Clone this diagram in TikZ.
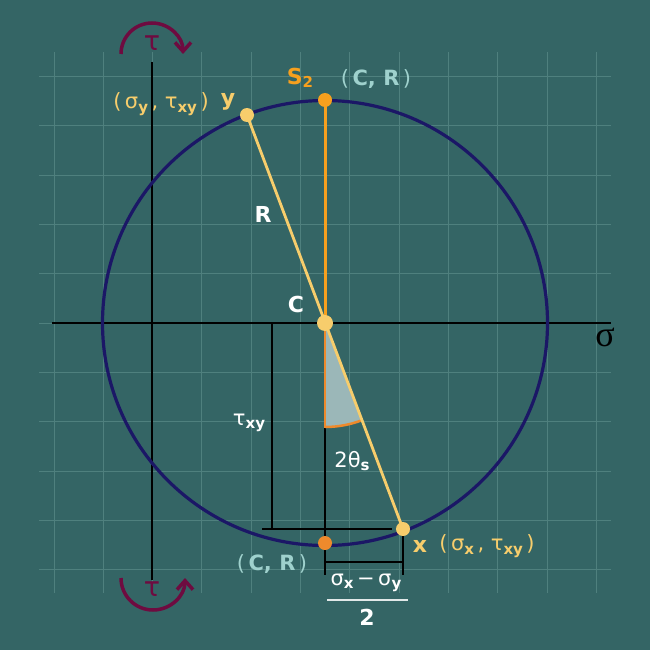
\documentclass[tikz,border=0pt]{standalone}
\usepackage{fontspec}
\setmainfont{DejaVu Sans}
\newfontfamily\serifg{Liberation Serif}
\usetikzlibrary{arrows.meta}
\definecolor{bg}{HTML}{346565}
\definecolor{gridc}{HTML}{4F807E}
\definecolor{circ}{HTML}{1B1766}
\definecolor{yel}{HTML}{F7CD6C}
\definecolor{orn}{HTML}{F7A01E}
\definecolor{orn2}{HTML}{EE8A2C}
\definecolor{tealt}{HTML}{9FD1CD}
\definecolor{maroonc}{HTML}{6E0B40}
\definecolor{shadec}{HTML}{9BB7B8}
\newcommand\sbs[1]{\raisebox{-0.3ex}{\fontsize{15}{15}\selectfont\bfseries #1}}
\tikzset{
  lbl/.style={inner sep=0pt, font=\fontsize{21}{24}\selectfont},
  blbl/.style={inner sep=0pt, font=\fontsize{22}{24}\selectfont\bfseries},
  dot/.style={circle, inner sep=0pt, minimum size=14pt},
  dimline/.style={black, line width=1.6pt},
  rot/.style={maroonc, line width=3.5pt, -{Straight Barb[length=9pt,width=16pt,line width=3.5pt]}},
}
\begin{document}
\begin{tikzpicture}[x=1pt,y=-1pt]
\fill[bg] (0,0) rectangle (650,650);
\useasboundingbox (0,0) rectangle (650,650);
% grid
\foreach \i in {0,...,11} \draw[gridc, line width=1pt] ({54+49.3*\i},52) -- ({54+49.3*\i},593);
\foreach \j in {0,...,10} \draw[gridc, line width=1pt] (39,{76.7+49.3*\j}) -- (611,{76.7+49.3*\j});
% coordinates
\coordinate (C) at (325,323);
\coordinate (S) at (325,100);
\coordinate (B) at (325,543);
\coordinate (Y) at (247,115);
\coordinate (X) at (403,529);
\coordinate (tT) at (152,62);
\coordinate (tB) at (152,580);
\coordinate (sL) at (52,323);
\coordinate (sR) at (611,323);
% axes
\draw[black, line width=1.8pt] (tT) -- (tB);
\draw[black, line width=1.8pt] (sL) -- (sR);
% circle
\draw[circ, line width=3.2pt] (C) circle (222.5);
% wedge
\fill[shadec] (C) -- +(90:104) arc[start angle=90, end angle=69.3, radius=104] -- cycle;
% dimension lines
\coordinate (d1) at (272,323);
\coordinate (d2) at (272,530);
\coordinate (h1) at (262,529);
\coordinate (h2) at (392,529);
\coordinate (f1) at (325,562);
\coordinate (f2) at (403,562);
\coordinate (t1) at (325,428);
\coordinate (t2) at (325,575);
\coordinate (t3) at (403,575);
\draw[orn2, line width=2.5pt] (C) -- (B);
\draw[dimline] (d1) -- (d2);
\draw[dimline] (h1) -- (h2);
\draw[dimline] (f1) -- (f2);
\draw[dimline] (t1) -- (t2);
\draw[dimline] (X) -- (t3);
% orange arc
\draw[orn2, line width=2.5pt] (C) ++(90:104) arc[start angle=90, end angle=69.3, radius=104];
% main lines
\draw[orn, line width=3pt] (S) -- (C);
\draw[yel, line width=2.8pt] (Y) -- (X);
% dots
\node[dot, fill=orn] (Sd) at (S) {};
\node[dot, fill=orn2] (Bd) at (B) {};
\node[dot, fill=yel, minimum size=16pt] (Cd) at (C) {};
\node[dot, fill=yel] (Yd) at (Y) {};
\node[dot, fill=yel] (Xd) at (X) {};
% rotation arrows
\draw[rot] (121,54) arc[start angle=180, end angle=360, radius=31];
\draw[rot] (121,578) arc[start angle=180, end angle=0, radius=32];
\node[maroonc, inner sep=0pt, font=\fontsize{27}{27}\selectfont] (tau1) at (152,43) {τ};
\node[maroonc, inner sep=0pt, font=\fontsize{27}{27}\selectfont] (tau2) at (152,589) {τ};
% labels
\node[blbl, text=orn] (S2) at (300,78) {S\sbs{2}};
\node[blbl, text=tealt, font=\fontsize{21}{24}\selectfont\bfseries] (CR1) at (376,79) {\mdseries(\,\bfseries C, R\,\mdseries)};
\node[lbl, text=yel] (ylab) at (161,104) {(\,σ\sbs{y}\,, τ\sbs{xy}\,)};
\node[blbl, text=yel] (yb) at (228,102) {y};
\node[blbl, text=white] (Rl) at (263,214) {R};
\node[blbl, text=white] (Cl) at (296,304) {C};
\node[inner sep=0pt, font=\serifg\fontsize{36}{36}\selectfont] (sig) at (605,337) {σ};
\node[lbl, text=white] (txy) at (249,423) {τ\sbs{xy}};
\node[lbl, text=white] (tth) at (352,461) {2θ\sbs{s}};
\node[blbl, text=yel] (xb) at (420,546) {x};
\node[lbl, text=yel] (xlab) at (487,546) {(\,σ\sbs{x}\,, τ\sbs{xy}\,)};
\node[blbl, text=tealt, font=\fontsize{21}{24}\selectfont\bfseries] (CR2) at (272,564) {\mdseries(\,\bfseries C, R\,\mdseries)};
\node[lbl, text=white] (num) at (366,583) {σ\sbs{x}\,−\,σ\sbs{y}};
\coordinate (bar1) at (327,600);
\coordinate (bar2) at (408,600);
\draw[white!85!bg, line width=1.5pt] (bar1) -- (bar2);
\node[blbl, text=white] (den) at (367,617) {2};
\end{tikzpicture}
\end{document}
